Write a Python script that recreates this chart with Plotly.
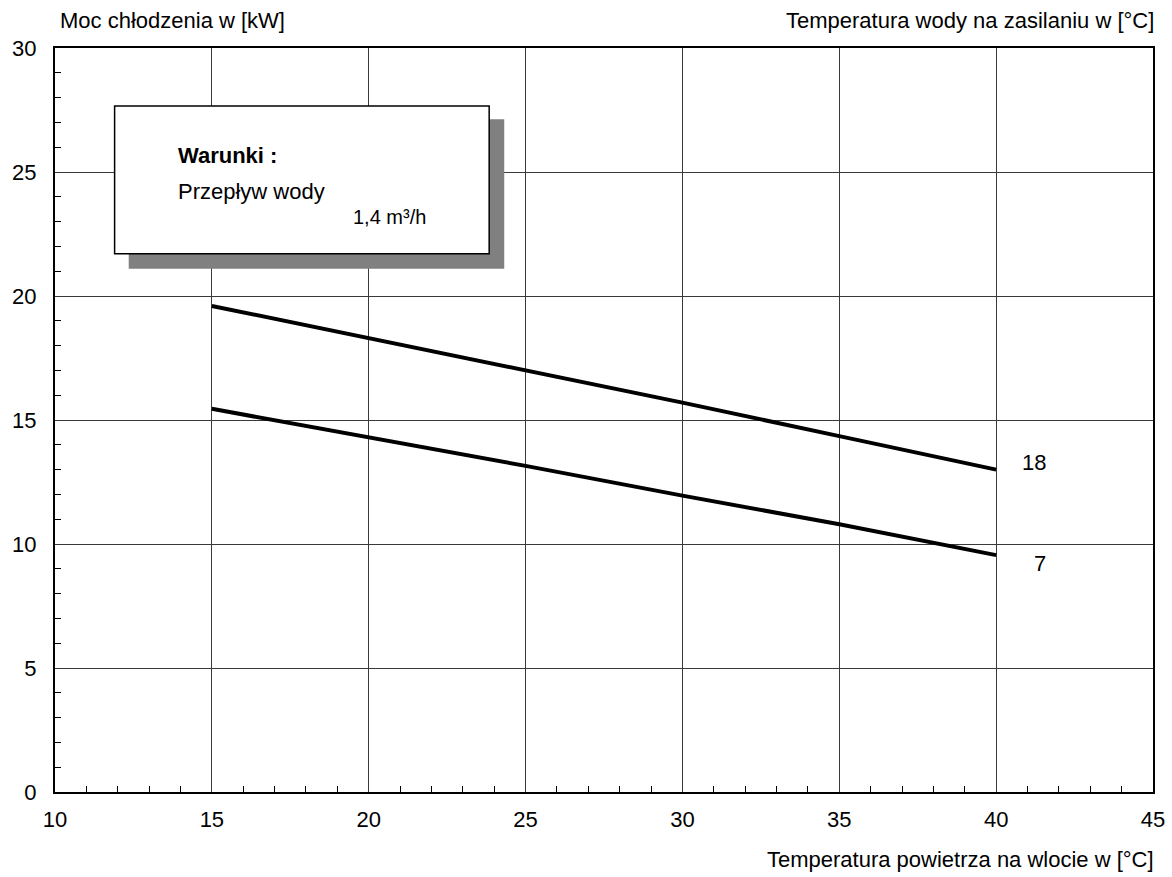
import plotly.graph_objects as go

# Data
air_temp = [15, 20, 25, 30, 35, 40]
power_18 = [19.6, 18.3, 17.0, 15.7, 14.35, 13.0]
power_7 = [15.45, 14.3, 13.15, 11.95, 10.8, 9.55]
series_labels = ["18", "7"]
label_x = [41.2, 41.4]
label_y = [13.3, 9.2]

x_title = "Temperatura powietrza na wlocie w [°C]"
y_title = "Moc chłodzenia w [kW]"
legend_title = "Temperatura wody na zasilaniu w [°C]"

FONT = "Liberation Sans, Arial, sans-serif"
W, H = 1172, 877
L, R, T, B = 54.5, 19, 47.7, 84.7
pw, ph = W - L - R, H - T - B


def px(xp):
    return (xp - L) / pw


def py(yp):
    return (H - B - yp) / ph


fig = go.Figure()
for ys in (power_18, power_7):
    fig.add_trace(go.Scatter(x=air_temp, y=ys, mode="lines",
                             line=dict(color="black", width=4),
                             showlegend=False, hoverinfo="skip"))

# conditions box: shadow then box
fig.add_shape(type="rect", xref="x", yref="y", x0=12.35, x1=24.32, y0=21.1, y1=27.13,
              fillcolor="#808080", line=dict(width=0), layer="above")
fig.add_shape(type="rect", xref="x", yref="y", x0=11.9, x1=23.84, y0=21.7, y1=27.66,
              fillcolor="white", line=dict(color="black", width=1.5), layer="above")

box_texts = [
    (13.85, 25.65, "<b>Warunki :</b>", 22),
    (13.85, 24.22, "Przepływ wody", 22),
    (19.45, 23.18, "1,4 m³/h", 20),
]
for x, y, t, s in box_texts:
    fig.add_annotation(x=x, y=y, xref="x", yref="y", text=t, xanchor="left",
                       yanchor="middle", showarrow=False,
                       font=dict(family=FONT, size=s, color="black"))

for x, y, t in zip(label_x, label_y, series_labels):
    fig.add_annotation(x=x, y=y, xref="x", yref="y", text=t, xanchor="center",
                       yanchor="middle", showarrow=False,
                       font=dict(family=FONT, size=22, color="black"))

fig.add_annotation(x=px(58), y=py(20), xref="paper", yref="paper", text=y_title,
                   xanchor="left", yanchor="middle", showarrow=False,
                   font=dict(family=FONT, size=22, color="black"))
fig.add_annotation(x=px(1156), y=py(20), xref="paper", yref="paper", text=legend_title,
                   xanchor="right", yanchor="middle", showarrow=False,
                   font=dict(family=FONT, size=22, color="black"))
fig.add_annotation(x=px(1156), y=py(860), xref="paper", yref="paper", text=x_title,
                   xanchor="right", yanchor="middle", showarrow=False,
                   font=dict(family=FONT, size=22, color="black"))

axis_common = dict(showline=True, linecolor="black", linewidth=2, mirror=True,
                   showgrid=True, gridcolor="#3a3a3a", gridwidth=1, zeroline=False,
                   ticks="", tickfont=dict(family=FONT, size=22, color="black"),
                   minor=dict(ticks="inside", dtick=1, ticklen=6, tickcolor="black",
                              tickwidth=1, showgrid=False))

fig.update_xaxes(range=[10, 45], dtick=5, tick0=10, ticklabelstandoff=7, **axis_common)
fig.update_yaxes(range=[0, 30], dtick=5, tick0=0, ticklabelstandoff=12, **axis_common)

fig.update_layout(width=W, height=H, plot_bgcolor="white", paper_bgcolor="white",
                  margin=dict(l=L, r=R, t=T, b=B, autoexpand=False),
                  font=dict(family=FONT, color="black"))

fig.write_html("out.html", config={"displayModeBar": False},
               post_script="document.body.style.margin='0';")
